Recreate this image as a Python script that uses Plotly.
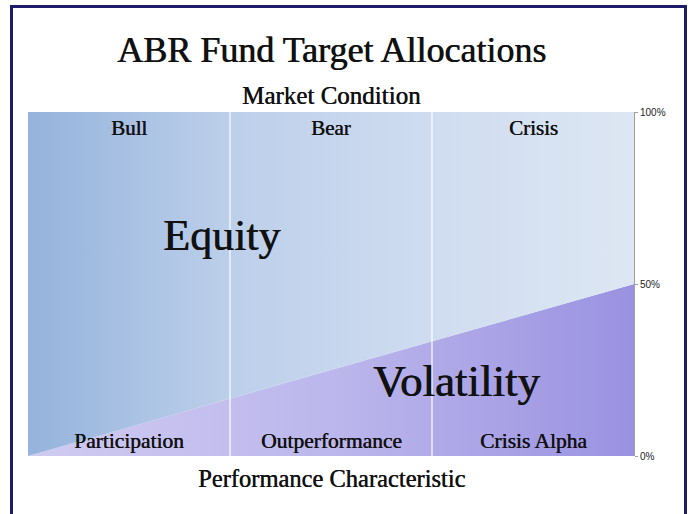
import plotly.graph_objects as go

# ---- data ----
x_pos = [0, 3]
equity = [100, 50]
volatility = [0, 50]
market_conditions = ["Bull", "Bear", "Crisis"]
performance = ["Participation", "Outperformance", "Crisis Alpha"]
tick_vals = [0, 50, 100]
tick_text = ["0%", "50%", "100%"]

W, H = 690, 514
L, R, T, B = 28, 56, 112, 58
pw, ph = W - L - R, H - T - B

def px(x):  # screen pixel -> paper x
    return (x - L) / pw

def py(y):  # screen pixel -> paper y
    return (H - B - y) / ph

SERIF = "Liberation Serif"
SH_BIG = "0.7px 0 0 #111"
SH_SMALL = "0.45px 0 0 #111"

fig = go.Figure()
fig.add_trace(go.Scatter(
    x=x_pos, y=volatility, mode="lines", line=dict(width=0), stackgroup="a",
    fill="tonexty",
    fillgradient=dict(type="horizontal",
                      colorscale=[[0, "#cfcbf1"], [0.5, "#bcb7ec"], [1, "#9a92e1"]]),
    hoverinfo="skip", name="Volatility"))
fig.add_trace(go.Scatter(
    x=x_pos, y=equity, mode="lines", line=dict(width=0), stackgroup="a",
    fill="tonexty",
    fillgradient=dict(type="horizontal",
                      colorscale=[[0, "#95b3dc"], [0.33, "#bccfea"], [0.66, "#cfdcf0"], [1, "#dde7f3"]]),
    hoverinfo="skip", name="Equity"))

# column dividers
for xv in [1, 2]:
    fig.add_shape(type="line", x0=xv, x1=xv, y0=0, y1=100, xref="x", yref="y",
                  line=dict(color="white", width=1.2), layer="above")

for i, c in enumerate(market_conditions):
    fig.add_annotation(x=i + 0.5, y=95.3, text=c, showarrow=False,
                       font=dict(family=SERIF, size=21, color="#111", shadow=SH_SMALL))
for i, c in enumerate(performance):
    fig.add_annotation(x=i + 0.5, y=4.4, text=c, showarrow=False,
                       font=dict(family=SERIF, size=21.5, color="#111", shadow=SH_SMALL))

fig.add_annotation(x=0.96, y=64, text="Equity", showarrow=False,
                   font=dict(family=SERIF, size=44, color="#111", shadow=SH_BIG))
fig.add_annotation(x=2.12, y=21.8, text="Volatility", showarrow=False,
                   font=dict(family=SERIF, size=45, color="#111", shadow=SH_BIG))

for txt, yy, sz in [("ABR Fund Target Allocations", 50, 36),
                    ("Market Condition", 96, 25),
                    ("Performance Characteristic", 478, 24.5)]:
    fig.add_annotation(x=0.5, y=py(yy), xref="paper", yref="paper", text=txt,
                       xanchor="center", yanchor="middle", showarrow=False,
                       font=dict(family=SERIF, size=sz, color="#111",
                                 shadow=SH_BIG if sz > 30 else SH_SMALL))

# outer border
fig.add_shape(type="rect", xref="paper", yref="paper",
              x0=px(11.5), x1=px(685.5), y0=py(540), y1=py(6.5),
              line=dict(color="#1f1b6c", width=3), fillcolor="rgba(0,0,0,0)")

fig.update_layout(
    width=W, height=H, margin=dict(l=L, r=R, t=T, b=B),
    paper_bgcolor="white", plot_bgcolor="white", showlegend=False,
    xaxis=dict(range=[0, 3], visible=False, fixedrange=True),
    yaxis=dict(range=[0, 100], side="right", tickvals=tick_vals, ticktext=tick_text,
               showgrid=False, zeroline=False, showline=True, linecolor="#a0a0a0",
               linewidth=1, ticks="outside", ticklen=3, tickcolor="#a0a0a0",
               tickfont=dict(family="Liberation Sans", size=10, color="#222"),
               fixedrange=True),
)
fig.write_html("out.html", config={"displayModeBar": False},
               post_script="document.body.style.margin='0';document.body.style.overflow='hidden';")
